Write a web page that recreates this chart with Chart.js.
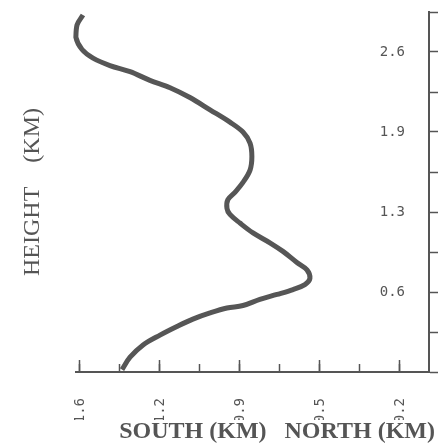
<!DOCTYPE html>
<html lang="en">
<head>
  <meta charset="UTF-8" />
  <title>Height profile</title>
  <script src="https://cdn.jsdelivr.net/npm/chart.js"></script>
  <style>
    html, body { margin: 0; padding: 0; background: #fff; }
    #wrap { width: 438px; height: 444px; position: relative; }
  </style>
</head>
<body>
  <div id="wrap"><canvas id="profile" width="438" height="444"></canvas></div>

  <script>
    // curve, bottom to top
    const heightKm = [0.02, 0.12, 0.22, 0.30, 0.37, 0.43, 0.48, 0.52, 0.54, 0.59, 0.63, 0.67, 0.71, 0.76,
      0.83, 0.89, 0.98, 1.05, 1.13, 1.21, 1.28, 1.33, 1.40, 1.46, 1.54, 1.64, 1.75, 1.86, 1.95, 2.03,
      2.13, 2.23, 2.31, 2.37, 2.44, 2.49, 2.55, 2.62, 2.72, 2.82, 2.90];
    const offsetKm = [-1.416, -1.381, -1.324, -1.25, -1.176, -1.106, -1.031, -0.957, -0.887, -0.813, -0.738,
      -0.668, -0.616, -0.594, -0.607, -0.651, -0.712, -0.769, -0.843, -0.9, -0.944, -0.957, -0.953,
      -0.922, -0.887, -0.856, -0.848, -0.856, -0.887, -0.944, -1.031, -1.119, -1.206, -1.294, -1.381,
      -1.469, -1.543, -1.591, -1.618, -1.613, -1.587];

    // axes
    const xMinorTicks = [-1.6, -1.425, -1.25, -1.075, -0.9, -0.725, -0.55, -0.375, -0.2];
    const xMajorTicks = [-1.6, -1.25, -0.9, -0.55, -0.2];
    const xTickLabels = ['-1.6', '-1.2', '-0.9', '-0.5', '-0.2'];
    const yTicks = [0, 0.325, 0.65, 0.975, 1.3, 1.625, 1.95, 2.275, 2.6, 2.925];
    const yTickLabels = ['', '', '0.6', '', '1.3', '', '1.9', '', '2.6', ''];

    const ink = '#555';
    const lineInk = '#555';

    const points = heightKm.map((h, i) => ({ x: offsetKm[i], y: h }));

    // no extra room for overhanging labels, the box sizes are fixed below
    const noPad = axis => { axis.paddingLeft = axis.paddingRight = axis.paddingTop = axis.paddingBottom = 0; };

    new Chart(document.getElementById('profile'), {
      type: 'scatter',
      data: {
        datasets: [{
          data: points,
          showLine: true,
          borderColor: '#565656',
          borderWidth: 5,
          pointRadius: 0,
          tension: 0.35,
          clip: false
        }]
      },
      options: {
        responsive: false,
        animation: false,
        layout: { padding: { top: 12, right: 3, left: 0, bottom: 0 } },
        plugins: {
          legend: { display: false },
          tooltip: { enabled: false },
          title: {
            display: true,
            position: 'bottom',
            align: 'end',
            text: 'SOUTH (KM)   NORTH (KM)',
            color: ink,
            font: { family: 'Liberation Serif', size: 24, lineHeight: 1 },
            padding: 0
          }
        },
        scales: {
          x: {
            type: 'linear',
            position: 'bottom',
            weight: 0,
            min: -1.6175,
            max: -0.073,
            afterBuildTicks: axis => { axis.ticks = xMinorTicks.map(v => ({ value: v })); },
            afterFit: axis => { axis.height = 0; noPad(axis); },
            grid: { drawOnChartArea: false, tickLength: -8, tickColor: lineInk, tickWidth: 1.5 },
            border: { display: true, color: lineInk, width: 2 },
            ticks: { display: false }
          },
          x2: {
            type: 'linear',
            position: 'bottom',
            weight: 1,
            min: -1.6175,
            max: -0.073,
            afterBuildTicks: axis => { axis.ticks = xMajorTicks.map(v => ({ value: v })); },
            afterFit: axis => { axis.height = 48; noPad(axis); },
            grid: { drawOnChartArea: false, tickLength: -12, tickColor: lineInk, tickWidth: 1.5 },
            border: { display: false },
            ticks: {
              minRotation: 90,
              maxRotation: 90,
              padding: 38,
              color: ink,
              font: { family: 'DejaVu Sans Mono', size: 14 },
              callback: (v, i) => xTickLabels[i]
            }
          },
          y: {
            type: 'linear',
            position: 'right',
            min: 0,
            max: 2.925,
            afterBuildTicks: axis => { axis.ticks = yTicks.map(v => ({ value: v })); },
            afterFit: axis => { axis.width = 6; noPad(axis); },
            grid: { drawOnChartArea: false, tickLength: 9, tickColor: lineInk, tickWidth: 1.5 },
            border: { display: true, color: lineInk, width: 2 },
            ticks: {
              mirror: true,
              padding: -24,
              color: ink,
              font: { family: 'DejaVu Sans Mono', size: 14 },
              callback: (v, i) => yTickLabels[i]
            }
          },
          // left side only carries the axis title
          yl: {
            type: 'linear',
            position: 'left',
            afterFit: axis => { axis.width = 76; noPad(axis); },
            grid: { display: false },
            border: { display: false },
            ticks: { display: false },
            title: {
              display: true,
              text: 'HEIGHT    (KM)',
              color: ink,
              font: { family: 'Liberation Serif', size: 24, lineHeight: 1.2 },
              padding: { top: 18, bottom: 0 }
            }
          }
        }
      }
    });
  </script>
</body>
</html>
